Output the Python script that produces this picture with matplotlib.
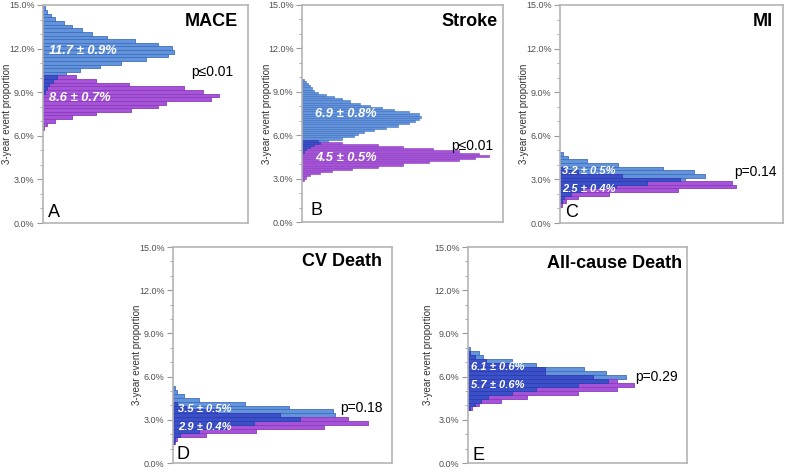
import numpy as np
import matplotlib
matplotlib.use("Agg")
import matplotlib.pyplot as plt

plt.rcParams['font.family'] = ['Liberation Sans', 'DejaVu Sans']

# ---- data: horizontal histograms of 3-year event proportion (%) ----
# each panel: lowest bin edge, bin width, bar lengths (share of panel width)
mace_lo, mace_bin = 6.4, 0.25
mace_blue = [0, 0, 0, 0, 0, 0, 0, 0, 0, 0,
             1, 2, 3, 5, 7, 11, 18, 28, 38, 50, 61, 64, 63, 56, 45, 31, 24, 19, 14, 10, 6, 4, 2, 1]
mace_purple = [0.5, 2, 6, 14, 26, 43, 56, 60, 82, 86, 78, 69, 42, 26, 16,
               0, 0, 0, 0, 0, 0, 0, 0, 0, 0, 0, 0, 0, 0, 0, 0, 0, 0, 0]

stroke_lo, stroke_bin = 2.85, 0.15
stroke_blue = [0] * 13 + [1, 2, 4, 6, 9, 13, 20, 26, 28, 31, 36, 42, 48, 53, 56, 58, 59, 58,
                          53, 46, 40, 34, 29, 24, 20, 16, 12, 8, 6, 5, 4, 3, 2, 1]
stroke_purple = [1, 2, 4, 9, 15, 25, 38, 50, 63, 78, 86, 93, 88, 78, 65, 50, 38, 20, 8] + [0] * 28

mi_lo, mi_bin = 1.125, 0.25
mi_blue = [0, 1, 2, 5, 10, 25, 39, 56, 65, 60, 46, 26, 12, 3.5, 1.5]
mi_purple = [1, 2.5, 8, 22, 53, 79, 77, 54, 28, 8, 2, 0, 0, 0, 0]

cv_lo, cv_bin = 1.29, 0.27
cv_blue = [0.5, 1, 3, 12, 25, 37, 58, 74, 73, 53, 33, 12, 5, 2, 1]
cv_purple = [1, 2, 15, 38, 69, 89, 80, 49, 20, 6, 2, 0, 0, 0, 0]

acd_lo, acd_bin = 3.65, 0.275
acd_blue = [1, 3, 6, 9, 20, 31, 50, 64, 72, 63, 53, 31, 20, 7, 5, 1]
acd_purple = [2, 5, 15, 27, 50, 68, 76, 68, 57, 35, 35, 20, 8, 3, 1, 0]

titles = ["MACE", "Stroke", "MI", "CV Death", "All-cause Death"]
letters = ["A", "B", "C", "D", "E"]
pvals = ["p≤0.01", "p≤0.01", "p=0.14", "p=0.18", "p=0.29"]
blue_labels = ["11.7 ± 0.9%", "6.9 ± 0.8%", "3.2 ± 0.5%", "3.5 ± 0.5%", "6.1 ± 0.6%"]
purple_labels = ["8.6 ± 0.7%", "4.5 ± 0.5%", "2.5 ± 0.4%", "2.9 ± 0.4%", "5.7 ± 0.6%"]
blue_label_y = [11.85, 7.45, 3.6, 3.78, 6.66]
purple_label_y = [8.57, 4.4, 2.35, 2.51, 5.44]
pval_y = [10.4, 5.25, 3.5, 3.8, 5.94]

hists = [(mace_lo, mace_bin, mace_blue, mace_purple),
         (stroke_lo, stroke_bin, stroke_blue, stroke_purple),
         (mi_lo, mi_bin, mi_blue, mi_purple),
         (cv_lo, cv_bin, cv_blue, cv_purple),
         (acd_lo, acd_bin, acd_blue, acd_purple)]

BLUE, BLUE_EDGE = "#6394da", "#3f6fc4"
PURPLE, PURPLE_EDGE = "#a653d8", "#8a3cc0"
DARK, DARK_EDGE = "#3b50c8", "#2d40b2"

W, H = 785, 473
# panel boxes in pixels: left, right, top, bottom
boxes = [(43, 248, 5, 223), (302, 503, 5, 222), (560, 783, 5, 223),
         (173, 392, 247, 463), (468, 687, 247, 463)]
title_off = [(-10, -17), (-5, -16), (-10, -16), (-10, -15), (-5, -16)]
pval_off = [-15, -10, -6, -9, -9]
letter_off = [(5, 11), (8, 12), (5, 11), (3, 9), (5, 8)]
ylabel_off = [-31, -30, -31, -31, -35]
label_dx = [3, 6.5, 1, 2.3, 1.4]
label_size = [9.3, 9.3, 8, 8, 8]

fig = plt.figure(figsize=(W / 100, H / 100), dpi=100)

for k, (l, r, t, b) in enumerate(boxes):
    ax = fig.add_axes([l / W, 1 - b / H, (r - l) / W, (b - t) / H])
    lo, bw, blue, purple = hists[k]
    blue = np.array(blue, dtype=float)
    purple = np.array(purple, dtype=float)
    centers = lo + bw / 2 + bw * np.arange(len(blue))
    overlap = np.minimum(blue, purple)
    lw = 0.4 if bw < 0.2 else 0.6

    ax.barh(centers, blue, height=bw, color=BLUE, edgecolor=BLUE_EDGE, linewidth=lw)
    ax.barh(centers, purple, height=bw, color=PURPLE, edgecolor=PURPLE_EDGE, linewidth=lw)
    ax.barh(centers, overlap, height=bw, color=DARK, edgecolor=DARK_EDGE, linewidth=lw)

    ax.set_xlim(0, 100)
    ax.set_ylim(0, 15)
    ax.set_xticks([])
    ax.set_yticks(np.arange(0, 15.1, 3))
    ax.set_yticks(np.arange(0, 15.1, 1), minor=True)
    ax.set_yticklabels([f"{v:.1f}%" for v in np.arange(0, 15.1, 3)])
    ax.tick_params(axis='y', which='major', length=4, width=0.8, color='#999999',
                   labelsize=6.5, labelcolor='#505050', pad=2)
    ax.tick_params(axis='y', which='minor', length=2.5, width=0.7, color='#aaaaaa')
    for sp in ax.spines.values():
        sp.set_color('#b4b4b4')
        sp.set_linewidth(1.2)

    ax.set_ylabel("3-year event proportion", fontsize=7, color='#333333')
    ax.yaxis.set_label_coords(ylabel_off[k] / (r - l), 0.5)

    ax.text(label_dx[k], blue_label_y[k], blue_labels[k], color='white', fontsize=label_size[k],
            fontweight='bold', fontstyle='italic', va='center', ha='left')
    ax.text(label_dx[k], purple_label_y[k], purple_labels[k], color='white', fontsize=label_size[k],
            fontweight='bold', fontstyle='italic', va='center', ha='left')

    ax.annotate(titles[k], xy=(1, 1), xycoords='axes fraction', xytext=title_off[k],
                textcoords='offset pixels', ha='right', va='center', fontsize=13,
                fontweight='bold', color='black')
    ax.annotate(pvals[k], xy=(1, pval_y[k]), xycoords=ax.get_yaxis_transform(),
                xytext=(pval_off[k], 0), textcoords='offset pixels', ha='right', va='center',
                fontsize=10, color='black')
    ax.annotate(letters[k], xy=(0, 0), xycoords='axes fraction', xytext=letter_off[k],
                textcoords='offset pixels', ha='left', va='center', fontsize=13, color='black')

fig.savefig("out.png", dpi=100)
